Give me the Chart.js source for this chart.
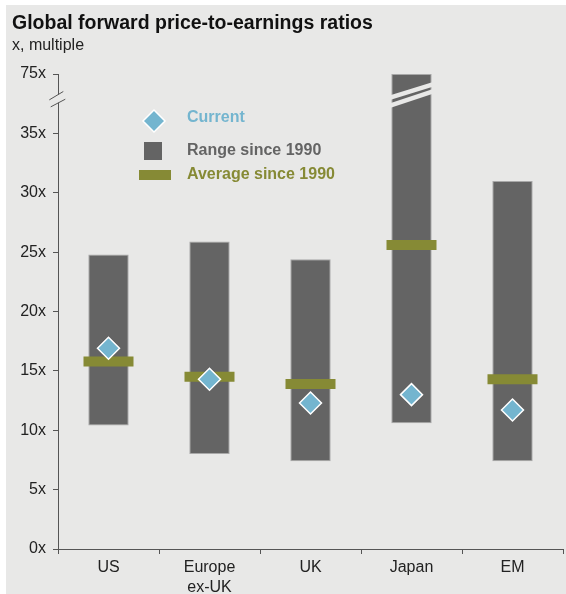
<!DOCTYPE html>
<html>
<head>
<meta charset="utf-8">
<script src="https://cdn.jsdelivr.net/npm/chart.js@4.4.1/dist/chart.umd.min.js"></script>
<style>
  html, body { margin: 0; padding: 0; background: #ffffff; }
</style>
</head>
<body>
<canvas id="peChart" width="566" height="594"></canvas>
<script>
// data
const regions = ['US', ['Europe', 'ex-UK'], 'UK', 'Japan', 'EM'];
const rangeLow = [10.4, 8.0, 7.4, 10.6, 7.4];
const rangeHigh = [24.8, 25.9, 24.4, 75, 31.0];
const averages = [15.8, 14.5, 13.9, 25.6, 14.3];
const current = [16.9, 14.3, 12.3, 13.0, 11.7];
const yTickLabels = ['0x', '5x', '10x', '15x', '20x', '25x', '30x', '35x', '75x'];

// broken axis: 35x..75x squeezed into one tick step
const BREAK_FROM = 35;
const BREAK_TO = 75;
const STEP = 5;
function toAxis(v) {
    return v <= BREAK_FROM ? v : BREAK_FROM + (v - BREAK_FROM) * STEP / (BREAK_TO - BREAK_FROM);
}

const BG = '#e8e8e7';
const AXIS = '#555555';
const GREY_BAR = '#646464';
const OLIVE = '#868a35';
const BLUE = '#74b5cf';

Chart.defaults.font.family = "'Liberation Sans', Arial, sans-serif";
Chart.defaults.color = '#333333';

const panelBg = {
    id: 'panelBg',
    beforeDraw(chart) {
        const ctx = chart.ctx;
        ctx.save();
        ctx.fillStyle = BG;
        ctx.fillRect(6, 5, chart.width - 6, chart.height - 5);
        ctx.restore();
    }
};

// white slashes across the Japan bar and the y axis
const axisBreak = {
    id: 'axisBreak',
    afterDatasetsDraw(chart) {
        const ctx = chart.ctx;
        const y = chart.scales.y;
        const yb = y.getPixelForValue(38.3);
        const bar = chart.getDatasetMeta(0).data[3];
        const l = bar.x - bar.width / 2 - 2;
        const r = bar.x + bar.width / 2 + 2;
        const k = 12.5 / (r - l - 4);
        ctx.save();
        ctx.strokeStyle = BG;
        ctx.lineWidth = 4.5;
        ctx.beginPath();
        ctx.moveTo(l, yb + 3 + 2 * k);
        ctx.lineTo(r, yb - 9.5 - 2 * k);
        ctx.moveTo(l, yb + 11 + 2 * k);
        ctx.lineTo(r, yb - 2.5 - 2 * k);
        ctx.stroke();

        const ax = chart.chartArea.left;
        ctx.fillStyle = BG;
        ctx.fillRect(ax - 3, yb + 0.5, 6, 8);
        ctx.strokeStyle = AXIS;
        ctx.lineWidth = 1;
        ctx.beginPath();
        ctx.moveTo(ax - 8.7, yb + 5.7);
        ctx.lineTo(ax + 5.3, yb - 2.7);
        ctx.moveTo(ax - 7.3, yb + 12.7);
        ctx.lineTo(ax + 7.3, yb + 5);
        ctx.stroke();
        ctx.restore();
    }
};

const legendBox = {
    id: 'legendBox',
    afterDraw(chart) {
        const ctx = chart.ctx;
        const ds = chart.data.datasets;
        ctx.save();
        ctx.font = "bold 16px 'Liberation Sans', Arial, sans-serif";
        ctx.textBaseline = 'middle';

        // current
        ctx.fillStyle = ds[2].pointBackgroundColor;
        ctx.strokeStyle = '#ffffff';
        ctx.lineWidth = 1.5;
        ctx.beginPath();
        ctx.moveTo(154, 110);
        ctx.lineTo(165, 121);
        ctx.lineTo(154, 132);
        ctx.lineTo(143, 121);
        ctx.closePath();
        ctx.fill();
        ctx.stroke();
        ctx.fillText(ds[2].label, 187, 118);

        // range
        ctx.fillStyle = ds[0].backgroundColor;
        ctx.fillRect(144, 142, 18, 18);
        ctx.fillText(ds[0].label, 187, 151);

        // average
        ctx.fillStyle = ds[1].pointBorderColor;
        ctx.fillRect(139, 170, 32, 10);
        ctx.fillText(ds[1].label, 187, 175);
        ctx.restore();
    }
};

new Chart(document.getElementById('peChart'), {
    data: {
        labels: regions,
        datasets: [
            {
                type: 'bar',
                label: 'Range since 1990',
                data: rangeLow.map((lo, i) => [lo, toAxis(rangeHigh[i])]),
                backgroundColor: GREY_BAR,
                borderColor: '#a8a8a8',
                borderWidth: 1,
                borderSkipped: false,
                barPercentage: 0.4,
                categoryPercentage: 1,
                grouped: false,
                order: 3
            },
            {
                type: 'line',
                label: 'Average since 1990',
                data: averages.map(toAxis),
                showLine: false,
                pointStyle: 'line',
                pointRadius: 25,
                pointHoverRadius: 25,
                pointBorderWidth: 10,
                pointBorderColor: OLIVE,
                order: 2
            },
            {
                type: 'line',
                label: 'Current',
                data: current.map(toAxis),
                showLine: false,
                pointStyle: 'rectRot',
                pointRadius: 11,
                pointHoverRadius: 11,
                pointBackgroundColor: BLUE,
                pointBorderColor: '#ffffff',
                pointBorderWidth: 1.5,
                order: 1
            }
        ]
    },
    options: {
        responsive: false,
        animation: false,
        events: [],
        layout: { autoPadding: false, padding: { top: 5, left: 12, right: 3, bottom: 0 } },
        plugins: {
            legend: { display: false },
            tooltip: { enabled: false },
            title: {
                display: true,
                text: 'Global forward price-to-earnings ratios',
                align: 'start',
                color: '#111111',
                font: { size: 19.5, weight: 'bold', lineHeight: 1.2 },
                padding: { top: 7, bottom: 0 }
            },
            subtitle: {
                display: true,
                text: 'x, multiple',
                align: 'start',
                color: '#222222',
                font: { size: 16, lineHeight: 1.2 },
                padding: { top: 1, bottom: 18.4 }
            }
        },
        scales: {
            x: {
                type: 'category',
                offset: true,
                border: { display: true, color: AXIS, width: 1 },
                grid: { display: true, offset: true, drawOnChartArea: false, drawTicks: true, tickLength: 5, color: AXIS },
                ticks: {
                    color: '#222222',
                    font: { size: 16, lineHeight: 1.25 },
                    padding: 4,
                    crossAlign: 'near',
                    maxRotation: 0,
                    autoSkip: false
                },
                afterFit(scale) { scale.height = 45; }
            },
            y: {
                type: 'linear',
                min: 0,
                max: toAxis(BREAK_TO),
                border: { display: true, color: AXIS, width: 1 },
                grid: { display: true, drawOnChartArea: false, drawTicks: true, tickLength: 5, color: AXIS },
                ticks: {
                    stepSize: STEP,
                    color: '#222222',
                    font: { size: 16 },
                    padding: 7,
                    callback: (v) => yTickLabels[Math.round(v / STEP)]
                },
                afterFit(scale) { scale.width = 46; }
            }
        }
    },
    plugins: [panelBg, axisBreak, legendBox]
});
</script>
</body>
</html>
